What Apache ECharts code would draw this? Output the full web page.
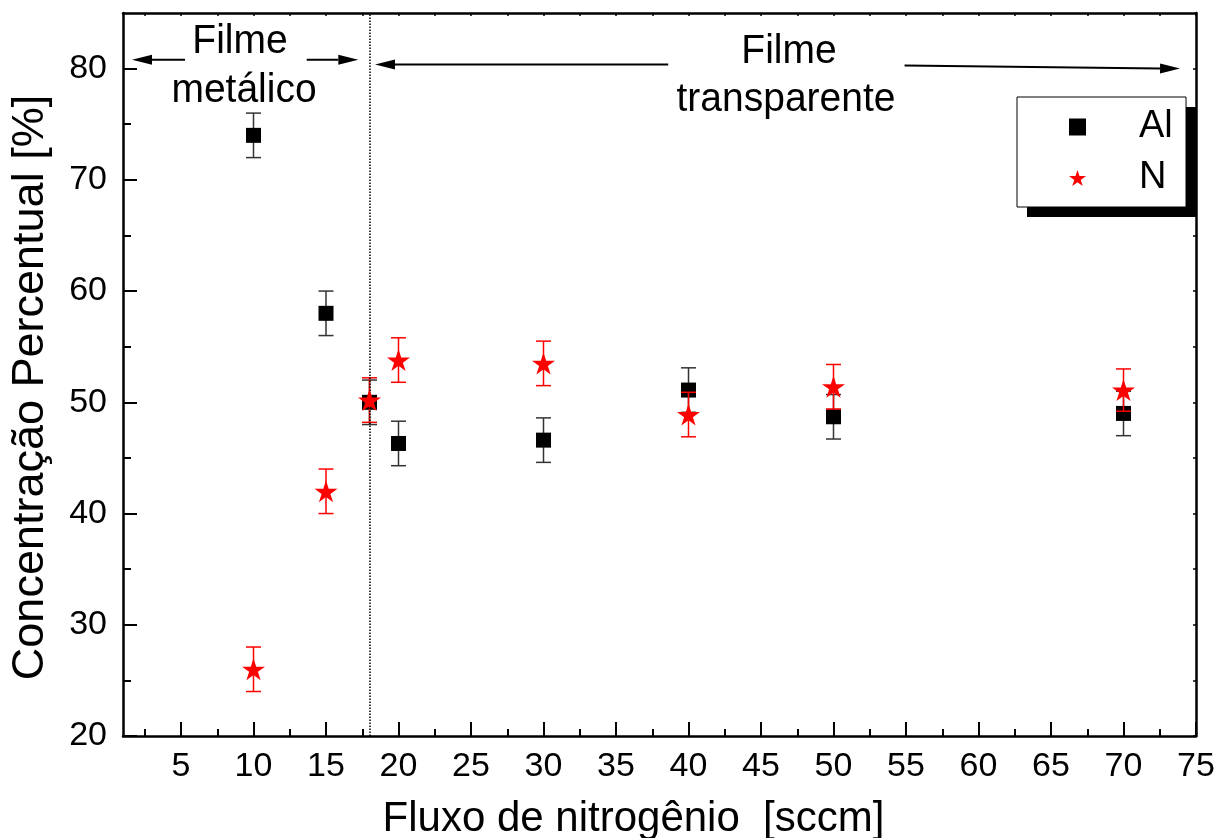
<!DOCTYPE html>
<html>
<head>
<meta charset="utf-8">
<script src="https://cdn.jsdelivr.net/npm/echarts@6/dist/echarts.min.js"></script>
<style>
  html, body { margin: 0; padding: 0; background: #fff; }
  #chart { width: 1220px; height: 838px; }
</style>
</head>
<body>
<div id="chart"></div>
<script>
// nitrogen flow (sccm)
var fluxo = [10, 15, 18, 20, 30, 40, 50, 70];
// Al concentration (%) and error
var alValues = [74.0, 58.0, 50.0, 46.3, 46.6, 51.1, 48.7, 49.0];
var alErr = [2, 2, 2, 2, 2, 2, 2, 2];
// N concentration (%) and error
var nValues = [26.0, 42.0, 50.2, 53.8, 53.5, 48.9, 51.4, 51.1];
var nErr = [2, 2, 2, 2, 2, 2, 2, 1.9];

var xMajorTicks = [5, 10, 15, 20, 25, 30, 35, 40, 45, 50, 55, 60, 65, 70, 75];
var xMinorTicks = [2.5, 7.5, 12.5, 17.5, 22.5, 27.5, 32.5, 37.5, 42.5, 47.5, 52.5, 57.5, 62.5, 67.5, 72.5];
var yMajorTicks = [20, 30, 40, 50, 60, 70, 80];
var yMinorTicks = [25, 35, 45, 55, 65, 75];

// region boundary and annotation arrows [x1, y1, x2, y2] (arrow head at x2,y2)
var boundary = 18;
var arrows = [
  [5.28, 80.8, 1.62, 80.8],
  [13.67, 80.8, 17.23, 80.8],
  [38.6, 80.36, 18.38, 80.36],
  [54.9, 80.27, 73.9, 80.0]
];

var FONT = '"Liberation Sans", Arial, sans-serif';
var STAR = 'path://M50 0 L61.23 34.55 L97.55 34.55 L68.17 55.9 L79.39 90.45 L50 69.1 L20.61 90.45 L31.83 55.9 L2.45 34.55 L38.77 34.55 Z';

function points(xs, ys) {
  return xs.map(function (x, i) { return [x, ys[i]]; });
}
function errData(xs, ys, es) {
  return xs.map(function (x, i) { return [x, ys[i] - es[i], ys[i] + es[i]]; });
}
function errorBars(color) {
  return function (params, api) {
    var lo = api.coord([api.value(0), api.value(1)]);
    var hi = api.coord([api.value(0), api.value(2)]);
    var w = 7.5;
    var st = { stroke: color, lineWidth: 1.5 };
    return {
      type: 'group',
      children: [
        { type: 'line', shape: { x1: lo[0], y1: lo[1], x2: hi[0], y2: hi[1] }, style: st },
        { type: 'line', shape: { x1: lo[0] - w, y1: lo[1], x2: lo[0] + w, y2: lo[1] }, style: st },
        { type: 'line', shape: { x1: hi[0] - w, y1: hi[1], x2: hi[0] + w, y2: hi[1] }, style: st }
      ]
    };
  };
}
function drawArrow(params, api) {
  var p1 = api.coord([api.value(0), api.value(1)]);
  var p2 = api.coord([api.value(2), api.value(3)]);
  var dx = p2[0] - p1[0], dy = p2[1] - p1[1];
  var len = Math.sqrt(dx * dx + dy * dy);
  var ux = dx / len, uy = dy / len;
  var hl = 20, hw = 5;
  var bx = p2[0] - ux * hl, by = p2[1] - uy * hl;
  return {
    type: 'group',
    children: [
      { type: 'line', shape: { x1: p1[0], y1: p1[1], x2: bx, y2: by }, style: { stroke: '#000', lineWidth: 2 } },
      { type: 'polygon', shape: { points: [[p2[0], p2[1]], [bx - uy * hw, by + ux * hw], [bx + uy * hw, by - ux * hw]] }, style: { fill: '#000' } }
    ]
  };
}
function label(text, x, y) {
  return {
    type: 'text', z: 10,
    x: x, y: y, scaleY: 1.06,
    style: { text: text, font: '39px ' + FONT, fill: '#000', align: 'center', verticalAlign: 'middle' }
  };
}

var axisLine = { show: true, lineStyle: { color: '#000', width: 2.5 } };

var chart = echarts.init(document.getElementById('chart'));
var option = {
  backgroundColor: '#fff',
  animation: false,
  textStyle: { fontFamily: FONT },
  grid: { left: 123, right: 24, top: 13, bottom: 102, outerBoundsMode: 'none' },
  legend: {
    orient: 'vertical',
    left: 1017,
    top: 97,
    padding: [10, 14, 9, 52],
    itemGap: 11,
    itemWidth: 17,
    itemHeight: 17,
    z: 20,
    textStyle: { fontSize: 38, lineHeight: 40, color: '#000', fontFamily: FONT, padding: [0, 0, 0, 48] },
    data: ['Al', 'N']
  },
  xAxis: [
    {
      type: 'value', min: 1, max: 75, position: 'bottom',
      axisLine: axisLine,
      axisTick: { show: true, inside: true, length: 14, customValues: xMajorTicks, lineStyle: { color: '#000', width: 2 } },
      axisLabel: { customValues: xMajorTicks, fontSize: 34, color: '#000', margin: 14, fontFamily: FONT },
      splitLine: { show: false },
      name: 'Fluxo de nitrogênio  [sccm]',
      nameLocation: 'middle',
      nameGap: 62,
      nameTextStyle: { fontSize: 42, color: '#000', fontFamily: FONT, padding: [0, 52, 0, 0] }
    },
    {
      type: 'value', min: 1, max: 75, position: 'bottom',
      axisLine: { show: false },
      axisTick: { show: true, inside: true, length: 7, customValues: xMinorTicks, lineStyle: { color: '#000', width: 2 } },
      axisLabel: { show: false },
      splitLine: { show: false }
    },
    {
      type: 'value', min: 1, max: 75, position: 'top',
      axisLine: axisLine,
      axisTick: { show: true, inside: true, length: 3, customValues: xMinorTicks.concat(xMajorTicks), lineStyle: { color: '#000', width: 1.5 } },
      axisLabel: { show: false },
      splitLine: { show: false }
    }
  ],
  yAxis: [
    {
      type: 'value', min: 20, max: 85, position: 'left',
      axisLine: axisLine,
      axisTick: { show: true, inside: true, length: 14, customValues: yMajorTicks, lineStyle: { color: '#000', width: 2 } },
      axisLabel: { customValues: yMajorTicks, fontSize: 34, color: '#000', margin: 16, fontFamily: FONT },
      splitLine: { show: false },
      name: 'Concentração Percentual [%]',
      nameLocation: 'middle',
      nameGap: 70,
      nameTextStyle: { fontSize: 45, color: '#000', fontFamily: FONT, padding: [0, 26, 0, 0] }
    },
    {
      type: 'value', min: 20, max: 85, position: 'left',
      axisLine: { show: false },
      axisTick: { show: true, inside: true, length: 8, customValues: yMinorTicks, lineStyle: { color: '#000', width: 2 } },
      axisLabel: { show: false },
      splitLine: { show: false }
    },
    {
      type: 'value', min: 20, max: 85, position: 'right',
      axisLine: axisLine,
      axisTick: { show: true, inside: true, length: 3, customValues: yMajorTicks.concat(yMinorTicks), lineStyle: { color: '#000', width: 1.5 } },
      axisLabel: { show: false },
      splitLine: { show: false }
    }
  ],
  graphic: [
    label('Filme', 240, 42),
    label('metálico', 244, 91),
    label('Filme', 789, 52),
    label('transparente', 786, 100),
    // legend frame with drop shadow
    { type: 'rect', z: 10, shape: { x: 1027, y: 107, width: 169, height: 110 }, style: { fill: '#000' } },
    { type: 'rect', z: 11, shape: { x: 1017, y: 97, width: 169, height: 110 }, style: { fill: '#fff', stroke: '#000', lineWidth: 1 } }
  ],
  series: [
    {
      name: 'arrows', type: 'custom', xAxisIndex: 0, yAxisIndex: 0,
      renderItem: drawArrow, data: arrows, clip: false, z: 1
    },
    {
      name: 'Al err', type: 'custom', xAxisIndex: 0, yAxisIndex: 0,
      renderItem: errorBars('#333'), data: errData(fluxo, alValues, alErr), z: 2
    },
    {
      name: 'Al', type: 'scatter', xAxisIndex: 0, yAxisIndex: 0,
      symbol: 'rect', symbolSize: 15,
      itemStyle: { color: '#000', opacity: 1 },
      data: points(fluxo, alValues), z: 3,
      markLine: {
        silent: true, symbol: 'none', label: { show: false },
        lineStyle: { type: 'dotted', color: '#000', width: 1.5 },
        data: [{ xAxis: boundary }]
      }
    },
    {
      name: 'N err', type: 'custom', xAxisIndex: 0, yAxisIndex: 0,
      renderItem: errorBars('#f00'), data: errData(fluxo, nValues, nErr), z: 4
    },
    {
      name: 'N', type: 'scatter', xAxisIndex: 0, yAxisIndex: 0,
      symbol: STAR, symbolSize: [23, 22],
      itemStyle: { color: '#f00', opacity: 1 },
      data: points(fluxo, nValues), z: 5
    }
  ]
};
chart.setOption(option);
</script>
</body>
</html>
